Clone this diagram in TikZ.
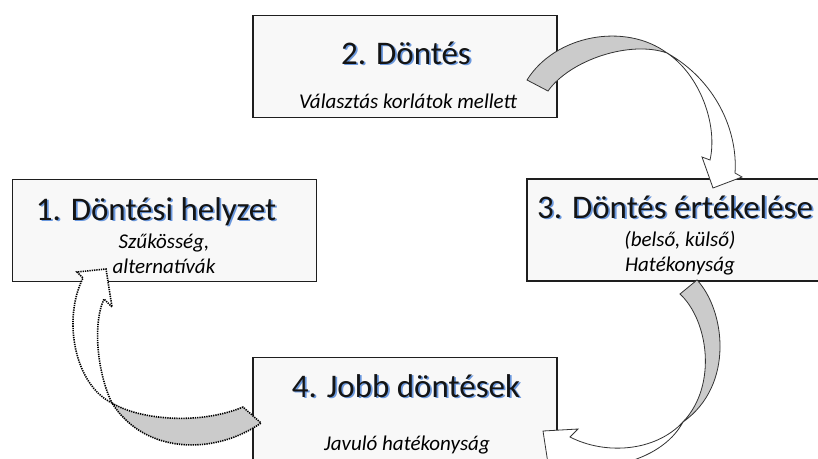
\documentclass[tikz,border=0pt]{standalone}
\usepackage{fontspec}
\setmainfont{Carlito}

\definecolor{boxfill}{HTML}{F8F8F8}
\definecolor{boxline}{HTML}{1E1E1E}
\definecolor{shadowblue}{HTML}{6A98DE}
\definecolor{bandgray}{HTML}{CBCBCB}

% cim kek arnyekkal
\newcommand{\shtitle}[1]{\makebox[0pt][l]{\kern1.8pt\raisebox{-1.8pt}{\textcolor{shadowblue}{#1}}}#1}

\begin{document}
\begin{tikzpicture}[x=1pt,y=-1pt]
\tikzstyle{box} = [draw=boxline, line width=1.5pt, fill=boxfill, minimum width=304pt, minimum height=102pt, inner sep=0pt]
\tikzstyle{title} = [anchor=base, inner sep=0pt, font=\fontsize{33}{36}\selectfont, text=black!92]
\tikzstyle{sub} = [anchor=base, inner sep=0pt, font=\fontsize{21}{25}\selectfont\itshape, align=center, text=black]
\tikzstyle{band} = [draw=black!80, line width=0.8pt, fill=bandgray]
\tikzstyle{shaft} = [draw=black!80, line width=0.8pt, fill=white]
\tikzstyle{dots} = [draw=black, line width=1.6pt, dash pattern=on 1.3pt off 1pt]

\useasboundingbox (0,0) rectangle (818,458);
\clip (0,0) rectangle (818,458);

% dobozok
\node[box] (helyzet) at (164.5, 230.5) {};
\node[box] (dontes) at (405, 66.5) {};
\node[box] (ertekeles) at (679, 230) {};
\node[box] (jobb) at (405, 408.5) {};

% szovegek (ket soros: a base az utolso sor)
\node[title] (t1) at (156, 220) {\shtitle{1. Döntési helyzet}};
\node[sub] (s1) at (164, 273) {Szűkösség,\\alternatívák};

\node[title] (t2) at (406, 64) {\shtitle{2. Döntés}};
\node[sub] (s2) at (408, 108) {Választás korlátok mellett};

\node[title] (t3) at (675, 218) {\shtitle{3. Döntés értékelése}};
\node[sub] (s3) at (680, 271) {(belső, külső)\\Hatékonyság};

\node[title] (t4) at (406, 397) {\shtitle{4. Jobb döntések}};
\node[sub] (s4) at (407, 450) {Javuló hatékonyság};

% nyil 2 -> 3
\coordinate (tipA) at (713, 188);
\path[band] (527, 80) .. controls (555, 35) and (625, 22) .. (667, 53)
  .. controls (630, 40) and (570, 60) .. (548, 91) -- cycle;
\path[shaft] (667, 53) .. controls (715, 80) and (738, 130) .. (735, 173)
  -- (742, 177) -- (tipA) -- (702, 157) -- (710, 160)
  .. controls (718, 125) and (700, 75) .. (667, 53) -- cycle;

% nyil 3 -> 4
\coordinate (tipB) at (543, 431);
\path[band] (697, 280) .. controls (725, 310) and (735, 385) .. (683, 422)
  .. controls (718, 385) and (708, 320) .. (680, 294) -- cycle;
\path[shaft] (683, 422) .. controls (660, 465) and (590, 475) .. (556, 462)
  -- (549, 470) -- (tipB) -- (578, 429) -- (570, 437)
  .. controls (605, 455) and (655, 452) .. (683, 422) -- cycle;

% nyil 4 -> 1
\coordinate (tipC) at (106, 269);
\path[band, dots] (243, 407) .. controls (200, 425) and (140, 420) .. (112, 403)
  .. controls (145, 455) and (215, 455) .. (261, 423) -- cycle;
\path[dots, fill=white] (112, 403) .. controls (75, 385) and (62, 320) .. (83, 278)
  -- (77, 272) -- (tipC) -- (112, 307) -- (104, 299)
  .. controls (92, 325) and (98, 375) .. (112, 403) -- cycle;

\end{tikzpicture}
\end{document}
